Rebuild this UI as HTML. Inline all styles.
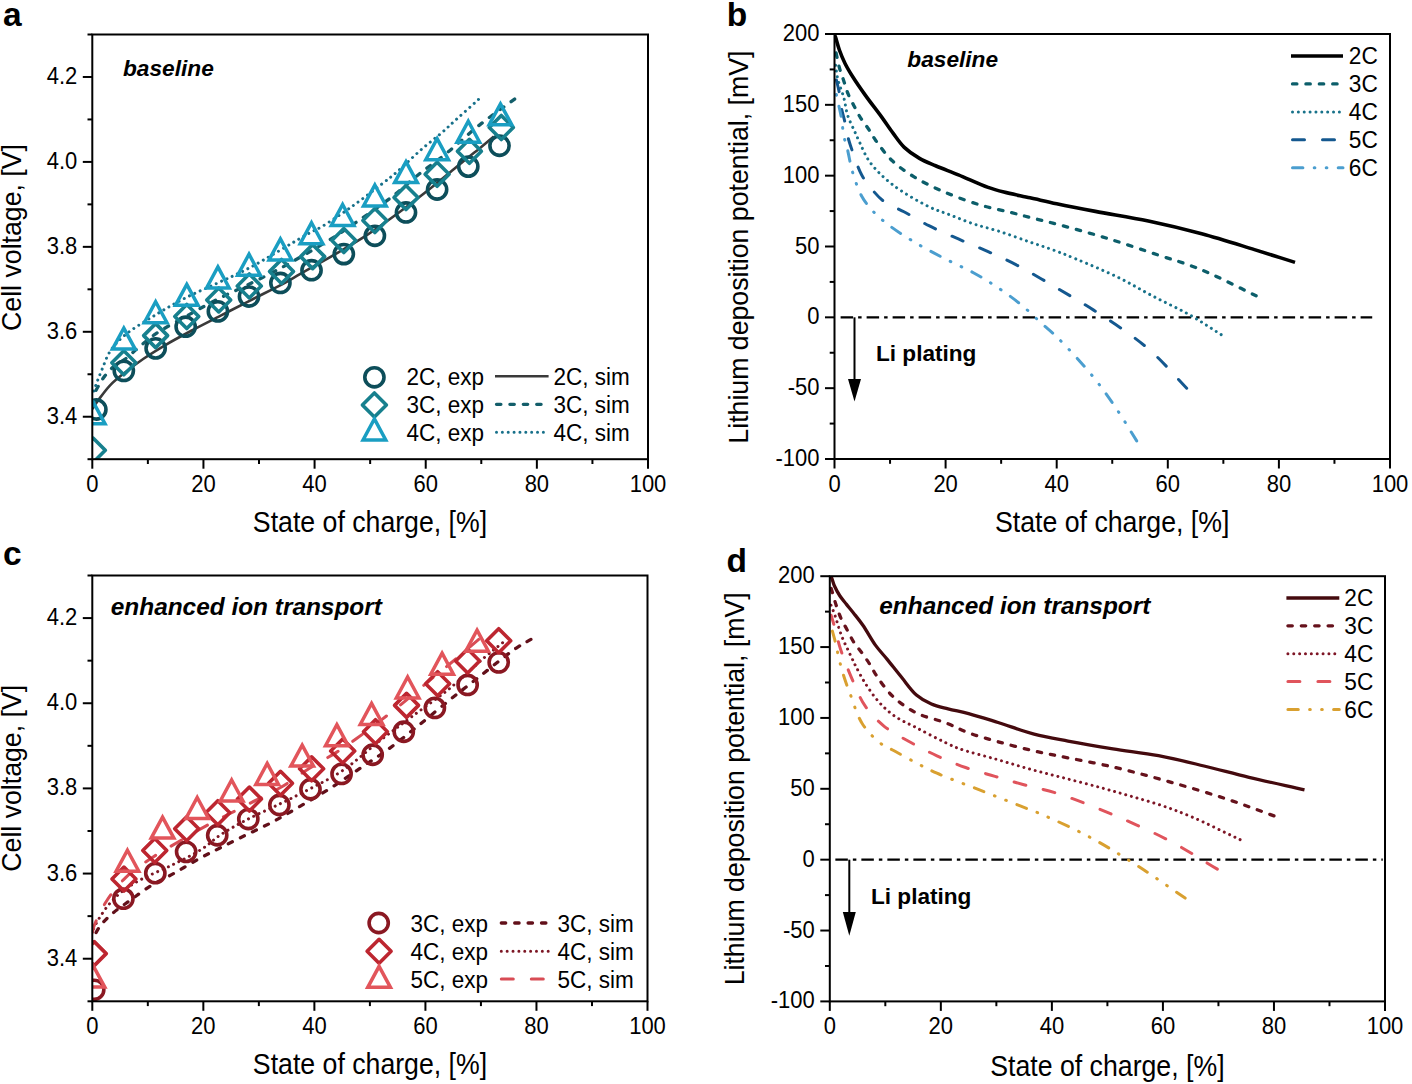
<!DOCTYPE html>
<html><head><meta charset="utf-8"><style>
html,body{margin:0;padding:0;background:#fff;}
svg{display:block;}
text{font-family:"Liberation Sans", sans-serif;fill:#000;}
</style></head><body>
<svg width="1412" height="1084" viewBox="0 0 1412 1084">
<rect width="1412" height="1084" fill="#fff"/>
<defs><clipPath id="ca"><rect x="92.3" y="34.5" width="555.7" height="424.7"/></clipPath><clipPath id="cc"><rect x="92.3" y="575.5" width="555.2" height="425.8"/></clipPath><clipPath id="cb"><rect x="834.5" y="34" width="555.5" height="425"/></clipPath><clipPath id="cd"><rect x="829.8" y="576.2" width="555.2" height="425.2"/></clipPath></defs>
<g clip-path="url(#ca)">
<path d="M92.30,409.09 C94.39,405.97 96.09,403.14 98.58,399.74 C101.77,395.39 105.86,389.71 110.08,385.30 C114.27,380.93 118.76,377.47 123.81,373.41 C129.63,368.73 136.32,363.65 143.15,358.97 C150.40,354.00 158.25,349.20 166.21,344.53 C174.44,339.70 182.96,335.20 191.77,330.52 C201.08,325.57 211.03,320.61 220.67,315.65 C230.30,310.70 239.35,306.01 249.56,300.79 C261.06,294.90 277.03,287.16 286.24,282.10 C291.96,278.96 294.33,277.24 299.91,274.03 C308.56,269.05 322.15,261.76 333.20,255.34 C344.33,248.88 355.48,242.51 366.43,235.38 C377.62,228.09 388.63,220.10 399.60,212.02 C410.75,203.83 423.30,194.09 432.78,186.54 C440.06,180.74 446.19,175.51 451.84,170.83 C456.37,167.07 459.65,164.22 464.06,160.64 C469.17,156.50 475.55,151.71 480.73,147.47 C485.39,143.67 489.44,140.11 493.79,136.43" fill="none" stroke="#3a3a3a" stroke-width="2.6" stroke-linecap="butt" stroke-linejoin="round"/>
<path d="M514.63,99.05 C502.59,107.97 489.95,116.68 478.51,125.81 C467.59,134.54 457.79,144.13 447.39,152.57 C437.41,160.66 426.99,167.82 417.38,175.50 C408.22,182.83 400.55,190.21 390.99,197.58 C380.35,205.78 367.59,214.49 356.26,222.22 C345.67,229.44 336.77,235.48 325.14,242.60 C310.91,251.32 290.40,262.90 276.79,270.21 C267.09,275.42 260.51,278.53 251.51,282.95 C241.31,287.96 229.27,293.30 218.72,298.66 C208.65,303.79 199.60,308.78 189.55,314.38 C178.63,320.46 164.70,327.78 155.65,333.91 C149.09,338.36 144.75,342.35 139.53,346.65 C134.44,350.85 129.30,356.01 124.70,359.40 C121.09,362.05 117.74,363.13 114.53,365.77 C110.98,368.68 107.37,372.70 104.53,376.38 C101.88,379.80 99.91,383.42 97.86,387.00 C95.85,390.50 94.15,394.08 92.30,397.62" fill="none" stroke="#135e6a" stroke-width="3.3" stroke-dasharray="4.4 9.0" stroke-linecap="round" stroke-linejoin="round"/>
<path d="M478.51,99.48 C470.81,106.42 462.13,114.19 455.39,120.29 C450.14,125.05 446.49,128.63 441.39,133.03 C435.56,138.07 429.01,142.86 422.22,148.74 C414.13,155.76 403.57,166.27 396.27,172.53 C391.19,176.87 388.37,178.96 382.99,183.14 C374.85,189.46 362.32,199.16 351.98,206.50 C342.02,213.57 330.12,221.71 322.08,226.46 C316.94,229.51 314.91,230.02 309.02,233.26 C296.24,240.29 265.78,259.24 249.01,268.08 C237.35,274.23 229.05,277.67 218.72,282.52 C207.96,287.58 196.30,292.35 185.66,297.81 C175.30,303.13 165.69,308.63 155.65,314.80 C145.07,321.31 131.90,329.03 123.81,336.04 C117.88,341.17 113.70,345.76 110.08,351.33 C106.60,356.69 104.63,363.23 102.30,368.74 C100.24,373.64 98.45,378.18 96.75,382.75 C95.13,387.08 93.78,391.25 92.30,395.49" fill="none" stroke="#17708a" stroke-width="3.0" stroke-dasharray="0.01 5.85" stroke-linecap="round" stroke-linejoin="round"/>
<circle cx="96.36" cy="409.51" r="9.6" fill="none" stroke="#0d4e5a" stroke-width="3.6"/>
<circle cx="123.81" cy="370.86" r="9.6" fill="none" stroke="#0d4e5a" stroke-width="3.6"/>
<circle cx="155.65" cy="348.35" r="9.6" fill="none" stroke="#0d4e5a" stroke-width="3.6"/>
<circle cx="185.66" cy="326.69" r="9.6" fill="none" stroke="#0d4e5a" stroke-width="3.6"/>
<circle cx="217.89" cy="311.40" r="9.6" fill="none" stroke="#0d4e5a" stroke-width="3.6"/>
<circle cx="249.01" cy="296.54" r="9.6" fill="none" stroke="#0d4e5a" stroke-width="3.6"/>
<circle cx="280.40" cy="282.95" r="9.6" fill="none" stroke="#0d4e5a" stroke-width="3.6"/>
<circle cx="311.52" cy="270.21" r="9.6" fill="none" stroke="#0d4e5a" stroke-width="3.6"/>
<circle cx="343.81" cy="254.07" r="9.6" fill="none" stroke="#0d4e5a" stroke-width="3.6"/>
<circle cx="374.87" cy="235.81" r="9.6" fill="none" stroke="#0d4e5a" stroke-width="3.6"/>
<circle cx="405.99" cy="212.45" r="9.6" fill="none" stroke="#0d4e5a" stroke-width="3.6"/>
<circle cx="437.11" cy="189.52" r="9.6" fill="none" stroke="#0d4e5a" stroke-width="3.6"/>
<circle cx="468.29" cy="166.58" r="9.6" fill="none" stroke="#0d4e5a" stroke-width="3.6"/>
<circle cx="499.52" cy="145.77" r="9.6" fill="none" stroke="#0d4e5a" stroke-width="3.6"/>
<path d="M93.30,438.28 L105.30,450.28 L93.30,462.28 L81.30,450.28 Z" fill="none" stroke="#17808e" stroke-width="3.6" stroke-linejoin="round"/>
<path d="M123.81,350.79 L135.81,362.79 L123.81,374.79 L111.81,362.79 Z" fill="none" stroke="#17808e" stroke-width="3.6" stroke-linejoin="round"/>
<path d="M155.65,323.61 L167.65,335.61 L155.65,347.61 L143.65,335.61 Z" fill="none" stroke="#17808e" stroke-width="3.6" stroke-linejoin="round"/>
<path d="M186.77,304.50 L198.77,316.50 L186.77,328.50 L174.77,316.50 Z" fill="none" stroke="#17808e" stroke-width="3.6" stroke-linejoin="round"/>
<path d="M218.72,287.94 L230.72,299.94 L218.72,311.94 L206.72,299.94 Z" fill="none" stroke="#17808e" stroke-width="3.6" stroke-linejoin="round"/>
<path d="M249.29,273.92 L261.29,285.92 L249.29,297.92 L237.29,285.92 Z" fill="none" stroke="#17808e" stroke-width="3.6" stroke-linejoin="round"/>
<path d="M281.52,259.48 L293.52,271.48 L281.52,283.48 L269.52,271.48 Z" fill="none" stroke="#17808e" stroke-width="3.6" stroke-linejoin="round"/>
<path d="M312.64,244.62 L324.64,256.62 L312.64,268.62 L300.64,256.62 Z" fill="none" stroke="#17808e" stroke-width="3.6" stroke-linejoin="round"/>
<path d="M343.81,228.48 L355.81,240.48 L343.81,252.48 L331.81,240.48 Z" fill="none" stroke="#17808e" stroke-width="3.6" stroke-linejoin="round"/>
<path d="M374.87,208.52 L386.87,220.52 L374.87,232.52 L362.87,220.52 Z" fill="none" stroke="#17808e" stroke-width="3.6" stroke-linejoin="round"/>
<path d="M405.99,185.58 L417.99,197.58 L405.99,209.58 L393.99,197.58 Z" fill="none" stroke="#17808e" stroke-width="3.6" stroke-linejoin="round"/>
<path d="M437.11,162.23 L449.11,174.23 L437.11,186.23 L425.11,174.23 Z" fill="none" stroke="#17808e" stroke-width="3.6" stroke-linejoin="round"/>
<path d="M469.40,139.29 L481.40,151.29 L469.40,163.29 L457.40,151.29 Z" fill="none" stroke="#17808e" stroke-width="3.6" stroke-linejoin="round"/>
<path d="M501.30,115.51 L513.30,127.51 L501.30,139.51 L489.30,127.51 Z" fill="none" stroke="#17808e" stroke-width="3.6" stroke-linejoin="round"/>
<path d="M93.69,402.83 L105.03,423.83 L82.35,423.83 Z" fill="none" stroke="#1a9ec2" stroke-width="3.5" stroke-linejoin="miter" stroke-miterlimit="10"/>
<path d="M123.81,328.09 L135.15,349.09 L112.47,349.09 Z" fill="none" stroke="#1a9ec2" stroke-width="3.5" stroke-linejoin="miter" stroke-miterlimit="10"/>
<path d="M155.65,301.75 L166.99,322.75 L144.31,322.75 Z" fill="none" stroke="#1a9ec2" stroke-width="3.5" stroke-linejoin="miter" stroke-miterlimit="10"/>
<path d="M186.77,284.34 L198.11,305.34 L175.43,305.34 Z" fill="none" stroke="#1a9ec2" stroke-width="3.5" stroke-linejoin="miter" stroke-miterlimit="10"/>
<path d="M217.89,266.93 L229.23,287.93 L206.55,287.93 Z" fill="none" stroke="#1a9ec2" stroke-width="3.5" stroke-linejoin="miter" stroke-miterlimit="10"/>
<path d="M249.01,254.19 L260.35,275.19 L237.67,275.19 Z" fill="none" stroke="#1a9ec2" stroke-width="3.5" stroke-linejoin="miter" stroke-miterlimit="10"/>
<path d="M280.40,238.90 L291.74,259.90 L269.06,259.90 Z" fill="none" stroke="#1a9ec2" stroke-width="3.5" stroke-linejoin="miter" stroke-miterlimit="10"/>
<path d="M311.52,222.76 L322.86,243.76 L300.18,243.76 Z" fill="none" stroke="#1a9ec2" stroke-width="3.5" stroke-linejoin="miter" stroke-miterlimit="10"/>
<path d="M342.64,204.50 L353.98,225.50 L331.30,225.50 Z" fill="none" stroke="#1a9ec2" stroke-width="3.5" stroke-linejoin="miter" stroke-miterlimit="10"/>
<path d="M374.87,184.96 L386.21,205.96 L363.53,205.96 Z" fill="none" stroke="#1a9ec2" stroke-width="3.5" stroke-linejoin="miter" stroke-miterlimit="10"/>
<path d="M405.99,161.60 L417.33,182.60 L394.65,182.60 Z" fill="none" stroke="#1a9ec2" stroke-width="3.5" stroke-linejoin="miter" stroke-miterlimit="10"/>
<path d="M437.11,138.67 L448.45,159.67 L425.77,159.67 Z" fill="none" stroke="#1a9ec2" stroke-width="3.5" stroke-linejoin="miter" stroke-miterlimit="10"/>
<path d="M468.29,121.26 L479.63,142.26 L456.95,142.26 Z" fill="none" stroke="#1a9ec2" stroke-width="3.5" stroke-linejoin="miter" stroke-miterlimit="10"/>
<path d="M500.46,103.84 L511.80,124.84 L489.12,124.84 Z" fill="none" stroke="#1a9ec2" stroke-width="3.5" stroke-linejoin="miter" stroke-miterlimit="10"/>
</g>
<rect x="92.3" y="34.5" width="555.7" height="424.7" fill="none" stroke="#000" stroke-width="2"/>
<line x1="92.30" y1="459.2" x2="92.30" y2="468.7" stroke="#000" stroke-width="2"/>
<text transform="translate(92.30,492.20) scale(1,1.08)" text-anchor="middle" font-size="22">0</text>
<line x1="147.87" y1="459.2" x2="147.87" y2="464.0" stroke="#000" stroke-width="2"/>
<line x1="203.44" y1="459.2" x2="203.44" y2="468.7" stroke="#000" stroke-width="2"/>
<text transform="translate(203.44,492.20) scale(1,1.08)" text-anchor="middle" font-size="22">20</text>
<line x1="259.01" y1="459.2" x2="259.01" y2="464.0" stroke="#000" stroke-width="2"/>
<line x1="314.58" y1="459.2" x2="314.58" y2="468.7" stroke="#000" stroke-width="2"/>
<text transform="translate(314.58,492.20) scale(1,1.08)" text-anchor="middle" font-size="22">40</text>
<line x1="370.15" y1="459.2" x2="370.15" y2="464.0" stroke="#000" stroke-width="2"/>
<line x1="425.72" y1="459.2" x2="425.72" y2="468.7" stroke="#000" stroke-width="2"/>
<text transform="translate(425.72,492.20) scale(1,1.08)" text-anchor="middle" font-size="22">60</text>
<line x1="481.29" y1="459.2" x2="481.29" y2="464.0" stroke="#000" stroke-width="2"/>
<line x1="536.86" y1="459.2" x2="536.86" y2="468.7" stroke="#000" stroke-width="2"/>
<text transform="translate(536.86,492.20) scale(1,1.08)" text-anchor="middle" font-size="22">80</text>
<line x1="592.43" y1="459.2" x2="592.43" y2="464.0" stroke="#000" stroke-width="2"/>
<line x1="648.00" y1="459.2" x2="648.00" y2="468.7" stroke="#000" stroke-width="2"/>
<text transform="translate(648.00,492.20) scale(1,1.08)" text-anchor="middle" font-size="22">100</text>
<line x1="82.8" y1="416.73" x2="92.3" y2="416.73" stroke="#000" stroke-width="2"/>
<line x1="82.8" y1="331.79" x2="92.3" y2="331.79" stroke="#000" stroke-width="2"/>
<line x1="82.8" y1="246.85" x2="92.3" y2="246.85" stroke="#000" stroke-width="2"/>
<line x1="82.8" y1="161.91" x2="92.3" y2="161.91" stroke="#000" stroke-width="2"/>
<line x1="82.8" y1="76.97" x2="92.3" y2="76.97" stroke="#000" stroke-width="2"/>
<line x1="87.5" y1="459.20" x2="92.3" y2="459.20" stroke="#000" stroke-width="2"/>
<line x1="87.5" y1="374.26" x2="92.3" y2="374.26" stroke="#000" stroke-width="2"/>
<line x1="87.5" y1="289.32" x2="92.3" y2="289.32" stroke="#000" stroke-width="2"/>
<line x1="87.5" y1="204.38" x2="92.3" y2="204.38" stroke="#000" stroke-width="2"/>
<line x1="87.5" y1="119.44" x2="92.3" y2="119.44" stroke="#000" stroke-width="2"/>
<line x1="87.5" y1="34.50" x2="92.3" y2="34.50" stroke="#000" stroke-width="2"/>
<text transform="translate(77.30,423.73) scale(1,1.08)" text-anchor="end" font-size="22">3.4</text>
<text transform="translate(77.30,338.79) scale(1,1.08)" text-anchor="end" font-size="22">3.6</text>
<text transform="translate(77.30,253.85) scale(1,1.08)" text-anchor="end" font-size="22">3.8</text>
<text transform="translate(77.30,168.91) scale(1,1.08)" text-anchor="end" font-size="22">4.0</text>
<text transform="translate(77.30,83.97) scale(1,1.08)" text-anchor="end" font-size="22">4.2</text>
<circle cx="374.40" cy="377.30" r="9.6" fill="none" stroke="#0d4e5a" stroke-width="3.6"/>
<path d="M374.40,392.90 L386.40,404.90 L374.40,416.90 L362.40,404.90 Z" fill="none" stroke="#17808e" stroke-width="3.6" stroke-linejoin="round"/>
<path d="M374.40,418.90 L385.74,439.90 L363.06,439.90 Z" fill="none" stroke="#1a9ec2" stroke-width="3.5" stroke-linejoin="miter" stroke-miterlimit="10"/>
<text transform="translate(406.5,385.00) scale(1,1.03)" font-size="22.5">2C, exp</text>
<text transform="translate(553.5,385.00) scale(1,1.03)" font-size="22.5">2C, sim</text>
<text transform="translate(406.5,413.00) scale(1,1.03)" font-size="22.5">3C, exp</text>
<text transform="translate(553.5,413.00) scale(1,1.03)" font-size="22.5">3C, sim</text>
<text transform="translate(406.5,441.00) scale(1,1.03)" font-size="22.5">4C, exp</text>
<text transform="translate(553.5,441.00) scale(1,1.03)" font-size="22.5">4C, sim</text>
<line x1="495" y1="376.30" x2="548.6" y2="376.30" stroke="#3a3a3a" stroke-width="2.6" stroke-linecap="butt"/>
<line x1="496.5" y1="404.30" x2="548.6" y2="404.30" stroke="#135e6a" stroke-width="3.3" stroke-dasharray="4.4 9.0" stroke-linecap="round"/>
<line x1="496.5" y1="432.30" x2="548.6" y2="432.30" stroke="#17708a" stroke-width="3.0" stroke-dasharray="0.01 5.85" stroke-linecap="round"/>
<text x="123" y="75.6" font-size="22.7" font-weight="bold" font-style="italic">baseline</text>
<text x="3.0" y="26.2" font-size="33.5" font-weight="bold">a</text>
<text transform="translate(21,237.5) rotate(-90) scale(1,1.05)" text-anchor="middle" font-size="26.7">Cell voltage, [V]</text>
<text transform="translate(370,531.70) scale(1,1.08)" text-anchor="middle" font-size="26.7">State of charge, [%]</text>
<g clip-path="url(#cb)">
<line x1="840.61" y1="317.33" x2="1372.22" y2="317.33" stroke="#000" stroke-width="2.2" stroke-dasharray="12.5 5 3.5 5"/>
<path d="M834.50,34.71 C834.83,35.51 835.09,35.98 835.50,37.12 C836.42,39.70 837.84,45.71 839.39,50.01 C841.00,54.49 842.87,59.06 845.05,63.47 C847.30,67.99 849.73,72.02 852.72,76.78 C856.37,82.59 861.00,89.18 865.61,95.62 C870.61,102.61 876.84,110.45 881.72,117.16 C885.92,122.94 889.35,128.29 893.22,133.45 C896.87,138.32 899.97,143.22 904.27,147.33 C908.70,151.56 914.18,155.29 919.49,158.38 C924.64,161.39 929.73,163.24 935.60,165.75 C942.50,168.70 950.30,171.50 958.38,174.82 C967.64,178.63 979.66,184.40 988.10,187.43 C994.13,189.59 997.96,190.57 1003.93,192.10 C1011.52,194.04 1021.29,195.84 1030.04,197.77 C1038.88,199.71 1046.98,201.67 1056.70,203.72 C1068.38,206.18 1081.45,208.73 1095.36,211.37 C1111.63,214.45 1130.72,217.29 1148.36,221.00 C1166.16,224.74 1184.02,228.99 1201.69,233.75 C1219.39,238.52 1238.04,244.57 1254.46,249.62 C1268.88,254.05 1281.49,258.12 1295.01,262.37" fill="none" stroke="#000000" stroke-width="3.6" stroke-linecap="butt" stroke-linejoin="round"/>
<path d="M1256.12,295.80 C1241.50,288.72 1224.56,280.06 1212.24,274.55 C1203.48,270.64 1197.67,268.21 1189.46,265.20 C1180.09,261.76 1170.48,259.05 1158.91,255.28 C1143.71,250.33 1123.84,243.36 1106.14,238.00 C1088.47,232.64 1066.88,226.84 1052.81,223.12 C1043.65,220.71 1037.43,219.35 1030.04,217.46 C1023.00,215.66 1016.93,213.94 1009.48,212.07 C1000.68,209.87 990.71,208.17 980.60,205.13 C969.01,201.65 955.35,196.73 943.93,191.82 C933.44,187.30 923.41,182.53 914.49,177.08 C906.33,172.10 898.78,166.97 892.27,160.79 C885.96,154.79 880.20,146.66 875.88,140.68 C872.67,136.21 870.80,132.41 868.16,128.49 C865.63,124.72 862.77,121.40 860.39,117.58 C857.96,113.71 855.85,109.39 853.78,105.40 C851.81,101.61 849.85,98.16 848.22,94.21 C846.49,90.02 845.25,85.32 843.78,80.89 C842.31,76.49 840.70,72.47 839.39,67.72 C837.89,62.29 836.80,55.91 835.50,50.01" fill="none" stroke="#0c5e6a" stroke-width="3.3" stroke-dasharray="4.4 9.0" stroke-linecap="round" stroke-linejoin="round"/>
<path d="M1221.13,334.62 C1210.57,328.01 1200.51,321.04 1189.46,314.78 C1177.96,308.26 1165.31,302.63 1153.36,296.37 C1141.43,290.12 1130.33,283.34 1117.81,277.24 C1104.33,270.69 1086.99,263.50 1075.03,258.54 C1066.51,255.01 1060.43,252.63 1052.98,249.90 C1045.44,247.14 1038.19,244.92 1030.04,242.11 C1020.70,238.89 1009.78,234.75 1000.04,231.62 C990.93,228.70 981.91,226.71 973.38,223.83 C965.28,221.11 957.62,217.83 950.04,214.91 C942.83,212.12 936.75,210.55 928.93,206.69 C918.18,201.39 902.58,192.51 892.27,184.45 C883.46,177.56 875.63,169.92 870.05,162.35 C865.39,156.02 862.62,148.54 859.89,142.94 C857.86,138.78 856.69,135.95 854.89,131.89 C852.68,126.93 849.52,121.03 847.67,115.32 C845.81,109.60 845.38,103.52 843.78,97.61 C842.12,91.52 839.23,85.09 837.83,79.33 C836.62,74.36 836.28,69.89 835.50,65.17" fill="none" stroke="#18728a" stroke-width="3.0" stroke-dasharray="0.01 5.85" stroke-linecap="round" stroke-linejoin="round"/>
<path d="M1186.69,388.17 C1175.58,376.55 1163.85,362.92 1153.36,353.32 C1145.00,345.67 1138.39,340.74 1129.47,334.19 C1118.88,326.41 1105.68,317.77 1093.64,310.11 C1081.79,302.57 1070.12,295.80 1057.81,288.57 C1044.88,280.98 1030.28,272.13 1017.82,265.62 C1007.29,260.13 998.05,256.06 988.10,251.60 C978.23,247.18 968.23,243.31 958.38,238.99 C948.51,234.67 938.26,230.36 928.93,225.68 C920.17,221.27 911.78,215.97 903.94,211.79 C897.08,208.14 889.91,205.78 884.50,201.88 C879.81,198.50 876.50,194.68 872.83,190.40 C868.87,185.78 865.07,181.17 861.72,174.96 C857.44,167.02 853.04,153.09 850.61,145.92 C849.21,141.78 848.56,139.61 847.67,136.00 C846.62,131.75 845.91,126.58 844.89,121.98 C843.89,117.47 842.51,113.29 841.61,108.66 C840.65,103.69 840.38,98.33 839.39,93.07 C838.36,87.61 836.80,82.03 835.50,76.50" fill="none" stroke="#14588f" stroke-width="3.0" stroke-dasharray="12 18" stroke-linecap="round" stroke-linejoin="round"/>
<path d="M1136.69,440.87 C1130.40,430.86 1124.67,421.00 1117.81,410.83 C1110.41,399.87 1102.84,388.75 1093.64,377.40 C1083.18,364.49 1067.51,347.50 1057.81,337.88 C1051.75,331.86 1047.81,329.00 1042.26,323.99 C1035.81,318.17 1028.84,311.08 1021.43,305.01 C1013.70,298.68 1004.95,292.38 996.71,286.88 C988.93,281.68 981.71,277.27 973.38,272.71 C964.24,267.70 953.69,263.33 943.93,258.26 C934.06,253.13 923.95,247.83 914.49,242.11 C905.26,236.53 895.28,230.14 887.83,224.40 C881.93,219.86 877.23,215.86 872.83,211.08 C868.64,206.53 865.05,202.22 861.89,196.49 C858.13,189.68 855.14,180.56 852.66,172.41 C850.23,164.36 848.80,154.59 847.11,147.90 C845.92,143.21 844.66,140.35 843.78,136.00 C842.74,130.87 842.50,124.33 841.61,119.00 C840.81,114.20 839.77,110.02 838.78,105.40 C837.74,100.58 836.59,95.58 835.50,90.67" fill="none" stroke="#4b9ecf" stroke-width="3.0" stroke-dasharray="10.4 11.3 0.7 11.3 0.7 11.3" stroke-linecap="round" stroke-linejoin="round"/>
</g>
<line x1="854.5" y1="317.33" x2="854.5" y2="382" stroke="#000" stroke-width="2"/>
<path d="M848,379 L861,379 L854.5,401.5 Z" fill="#000"/>
<text x="876" y="361.4" font-size="22.6" font-weight="bold">Li plating</text>
<rect x="834.5" y="34" width="555.5" height="425" fill="none" stroke="#000" stroke-width="2"/>
<line x1="834.50" y1="459" x2="834.50" y2="468.5" stroke="#000" stroke-width="2"/>
<text transform="translate(834.50,492.00) scale(1,1.08)" text-anchor="middle" font-size="22">0</text>
<line x1="890.05" y1="459" x2="890.05" y2="463.8" stroke="#000" stroke-width="2"/>
<line x1="945.60" y1="459" x2="945.60" y2="468.5" stroke="#000" stroke-width="2"/>
<text transform="translate(945.60,492.00) scale(1,1.08)" text-anchor="middle" font-size="22">20</text>
<line x1="1001.15" y1="459" x2="1001.15" y2="463.8" stroke="#000" stroke-width="2"/>
<line x1="1056.70" y1="459" x2="1056.70" y2="468.5" stroke="#000" stroke-width="2"/>
<text transform="translate(1056.70,492.00) scale(1,1.08)" text-anchor="middle" font-size="22">40</text>
<line x1="1112.25" y1="459" x2="1112.25" y2="463.8" stroke="#000" stroke-width="2"/>
<line x1="1167.80" y1="459" x2="1167.80" y2="468.5" stroke="#000" stroke-width="2"/>
<text transform="translate(1167.80,492.00) scale(1,1.08)" text-anchor="middle" font-size="22">60</text>
<line x1="1223.35" y1="459" x2="1223.35" y2="463.8" stroke="#000" stroke-width="2"/>
<line x1="1278.90" y1="459" x2="1278.90" y2="468.5" stroke="#000" stroke-width="2"/>
<text transform="translate(1278.90,492.00) scale(1,1.08)" text-anchor="middle" font-size="22">80</text>
<line x1="1334.45" y1="459" x2="1334.45" y2="463.8" stroke="#000" stroke-width="2"/>
<line x1="1390.00" y1="459" x2="1390.00" y2="468.5" stroke="#000" stroke-width="2"/>
<text transform="translate(1390.00,492.00) scale(1,1.08)" text-anchor="middle" font-size="22">100</text>
<line x1="825.0" y1="459.00" x2="834.5" y2="459.00" stroke="#000" stroke-width="2"/>
<line x1="825.0" y1="388.17" x2="834.5" y2="388.17" stroke="#000" stroke-width="2"/>
<line x1="825.0" y1="317.33" x2="834.5" y2="317.33" stroke="#000" stroke-width="2"/>
<line x1="825.0" y1="246.50" x2="834.5" y2="246.50" stroke="#000" stroke-width="2"/>
<line x1="825.0" y1="175.67" x2="834.5" y2="175.67" stroke="#000" stroke-width="2"/>
<line x1="825.0" y1="104.83" x2="834.5" y2="104.83" stroke="#000" stroke-width="2"/>
<line x1="825.0" y1="34.00" x2="834.5" y2="34.00" stroke="#000" stroke-width="2"/>
<line x1="829.7" y1="423.58" x2="834.5" y2="423.58" stroke="#000" stroke-width="2"/>
<line x1="829.7" y1="352.75" x2="834.5" y2="352.75" stroke="#000" stroke-width="2"/>
<line x1="829.7" y1="281.92" x2="834.5" y2="281.92" stroke="#000" stroke-width="2"/>
<line x1="829.7" y1="211.08" x2="834.5" y2="211.08" stroke="#000" stroke-width="2"/>
<line x1="829.7" y1="140.25" x2="834.5" y2="140.25" stroke="#000" stroke-width="2"/>
<line x1="829.7" y1="69.42" x2="834.5" y2="69.42" stroke="#000" stroke-width="2"/>
<text transform="translate(819.50,466.00) scale(1,1.08)" text-anchor="end" font-size="22">-100</text>
<text transform="translate(819.50,395.17) scale(1,1.08)" text-anchor="end" font-size="22">-50</text>
<text transform="translate(819.50,324.33) scale(1,1.08)" text-anchor="end" font-size="22">0</text>
<text transform="translate(819.50,253.50) scale(1,1.08)" text-anchor="end" font-size="22">50</text>
<text transform="translate(819.50,182.67) scale(1,1.08)" text-anchor="end" font-size="22">100</text>
<text transform="translate(819.50,111.83) scale(1,1.08)" text-anchor="end" font-size="22">150</text>
<text transform="translate(819.50,41.00) scale(1,1.08)" text-anchor="end" font-size="22">200</text>
<text x="907.3" y="67.3" font-size="22.7" font-weight="bold" font-style="italic">baseline</text>
<text x="726.8" y="25.5" font-size="33.5" font-weight="bold">b</text>
<text transform="translate(748,247.1) rotate(-90) scale(1,1.05)" text-anchor="middle" font-size="26.7">Lithium deposition potential, [mV]</text>
<text transform="translate(1112.2,531.70) scale(1,1.08)" text-anchor="middle" font-size="26.7">State of charge, [%]</text>
<line x1="1291" y1="56.00" x2="1343" y2="56.00" stroke="#000000" stroke-width="3.3" stroke-linecap="butt"/>
<text transform="translate(1348.8,64.10) scale(1,1.08)" font-size="22.7">2C</text>
<line x1="1292.5" y1="83.95" x2="1343" y2="83.95" stroke="#0c5e6a" stroke-width="3.3" stroke-dasharray="4.4 9.0" stroke-linecap="round"/>
<text transform="translate(1348.8,92.05) scale(1,1.08)" font-size="22.7">3C</text>
<line x1="1292.5" y1="111.90" x2="1343" y2="111.90" stroke="#18728a" stroke-width="3.0" stroke-dasharray="0.01 5.85" stroke-linecap="round"/>
<text transform="translate(1348.8,120.00) scale(1,1.08)" font-size="22.7">4C</text>
<line x1="1292.5" y1="139.85" x2="1343" y2="139.85" stroke="#14588f" stroke-width="3.0" stroke-dasharray="12 18" stroke-linecap="round"/>
<text transform="translate(1348.8,147.95) scale(1,1.08)" font-size="22.7">5C</text>
<line x1="1292.5" y1="167.80" x2="1343" y2="167.80" stroke="#4b9ecf" stroke-width="3.0" stroke-dasharray="10.4 11.3 0.7 11.3 0.7 11.3" stroke-linecap="round"/>
<text transform="translate(1348.8,175.90) scale(1,1.08)" font-size="22.7">6C</text>
<g clip-path="url(#cc)">
<path d="M530.91,639.37 C525.91,642.35 521.96,644.18 515.92,648.31 C505.63,655.34 487.85,670.11 475.94,679.40 C466.31,686.91 459.04,692.48 449.85,699.83 C439.38,708.21 427.40,718.40 416.54,727.08 C406.33,735.25 396.38,743.38 386.56,750.50 C377.53,757.04 369.09,762.23 359.91,768.39 C350.08,774.98 339.77,782.26 329.37,788.83 C318.87,795.46 307.31,802.10 297.17,807.99 C288.19,813.20 280.26,817.91 271.63,822.46 C263.05,826.99 254.18,830.96 245.54,835.24 C236.97,839.48 227.98,843.97 220.00,848.01 C212.92,851.59 206.99,854.43 200.01,858.23 C192.09,862.55 183.38,868.01 175.02,872.71 C166.73,877.37 157.83,881.49 150.04,886.33 C142.72,890.89 135.96,896.14 129.50,900.81 C123.63,905.05 117.83,908.85 112.84,913.16 C108.26,917.11 103.98,921.02 100.52,925.51 C97.17,929.84 95.04,934.88 92.30,939.56" fill="none" stroke="#62101a" stroke-width="3.3" stroke-dasharray="4.4 9.0" stroke-linecap="round" stroke-linejoin="round"/>
<path d="M502.59,642.78 C496.30,647.89 490.84,652.04 483.72,658.11 C473.98,666.39 461.71,678.66 449.85,688.34 C437.68,698.27 423.63,707.81 411.54,716.87 C400.62,725.04 391.25,731.89 380.45,740.28 C368.41,749.64 355.18,762.11 342.70,770.52 C331.70,777.92 320.73,783.11 309.94,788.83 C299.64,794.28 289.87,799.03 279.40,804.15 C268.43,809.53 255.92,814.83 245.54,820.33 C236.31,825.22 227.60,830.14 220.00,835.24 C213.38,839.68 209.19,844.38 202.23,848.86 C193.50,854.49 181.57,860.26 171.14,865.47 C160.84,870.61 148.97,874.98 140.05,879.95 C132.81,883.97 126.61,887.88 121.17,892.30 C116.38,896.18 112.55,900.15 108.79,904.64 C104.95,909.22 101.30,914.82 98.41,919.55 C95.96,923.55 94.34,927.21 92.30,931.04" fill="none" stroke="#7c1624" stroke-width="3.0" stroke-dasharray="0.01 5.85" stroke-linecap="round" stroke-linejoin="round"/>
<path d="M478.72,639.37 C468.36,648.17 456.66,658.26 447.63,665.77 C440.75,671.48 436.11,675.05 429.31,680.67 C420.63,687.84 410.74,696.66 399.88,705.37 C386.94,715.76 368.45,729.98 356.58,738.58 C348.56,744.39 343.38,747.97 336.03,752.63 C327.94,757.77 318.82,762.40 309.94,767.96 C300.34,773.97 290.50,781.66 280.51,787.55 C270.80,793.27 261.77,797.26 250.87,802.88 C237.48,809.77 219.33,818.68 206.12,825.87 C195.37,831.72 186.69,836.88 177.25,842.48 C168.01,847.95 158.74,853.14 150.04,859.08 C141.47,864.94 132.67,870.77 125.39,877.82 C118.27,884.71 111.98,892.71 106.74,900.81 C101.66,908.64 96.48,919.53 94.24,925.51 C93.05,928.71 92.95,930.62 92.30,933.17" fill="none" stroke="#d84c55" stroke-width="3.0" stroke-dasharray="12 18" stroke-linecap="round" stroke-linejoin="round"/>
<circle cx="94.24" cy="989.80" r="9.6" fill="none" stroke="#8a1822" stroke-width="3.6"/>
<circle cx="123.39" cy="898.68" r="9.6" fill="none" stroke="#8a1822" stroke-width="3.6"/>
<circle cx="155.32" cy="873.13" r="9.6" fill="none" stroke="#8a1822" stroke-width="3.6"/>
<circle cx="186.13" cy="851.84" r="9.6" fill="none" stroke="#8a1822" stroke-width="3.6"/>
<circle cx="217.22" cy="835.24" r="9.6" fill="none" stroke="#8a1822" stroke-width="3.6"/>
<circle cx="248.31" cy="819.06" r="9.6" fill="none" stroke="#8a1822" stroke-width="3.6"/>
<circle cx="279.40" cy="805.01" r="9.6" fill="none" stroke="#8a1822" stroke-width="3.6"/>
<circle cx="310.49" cy="789.25" r="9.6" fill="none" stroke="#8a1822" stroke-width="3.6"/>
<circle cx="341.58" cy="773.92" r="9.6" fill="none" stroke="#8a1822" stroke-width="3.6"/>
<circle cx="372.68" cy="754.76" r="9.6" fill="none" stroke="#8a1822" stroke-width="3.6"/>
<circle cx="403.77" cy="731.77" r="9.6" fill="none" stroke="#8a1822" stroke-width="3.6"/>
<circle cx="434.86" cy="707.92" r="9.6" fill="none" stroke="#8a1822" stroke-width="3.6"/>
<circle cx="467.62" cy="684.93" r="9.6" fill="none" stroke="#8a1822" stroke-width="3.6"/>
<circle cx="498.71" cy="662.36" r="9.6" fill="none" stroke="#8a1822" stroke-width="3.6"/>
<path d="M94.24,941.61 L106.24,953.61 L94.24,965.61 L82.24,953.61 Z" fill="none" stroke="#bd2630" stroke-width="3.6" stroke-linejoin="round"/>
<path d="M123.95,867.10 L135.95,879.10 L123.95,891.10 L111.95,879.10 Z" fill="none" stroke="#bd2630" stroke-width="3.6" stroke-linejoin="round"/>
<path d="M154.76,838.57 L166.76,850.57 L154.76,862.57 L142.76,850.57 Z" fill="none" stroke="#bd2630" stroke-width="3.6" stroke-linejoin="round"/>
<path d="M186.68,816.85 L198.68,828.85 L186.68,840.85 L174.68,828.85 Z" fill="none" stroke="#bd2630" stroke-width="3.6" stroke-linejoin="round"/>
<path d="M217.78,800.67 L229.78,812.67 L217.78,824.67 L205.78,812.67 Z" fill="none" stroke="#bd2630" stroke-width="3.6" stroke-linejoin="round"/>
<path d="M249.42,787.04 L261.42,799.04 L249.42,811.04 L237.42,799.04 Z" fill="none" stroke="#bd2630" stroke-width="3.6" stroke-linejoin="round"/>
<path d="M280.51,771.29 L292.51,783.29 L280.51,795.29 L268.51,783.29 Z" fill="none" stroke="#bd2630" stroke-width="3.6" stroke-linejoin="round"/>
<path d="M311.60,756.81 L323.60,768.81 L311.60,780.81 L299.60,768.81 Z" fill="none" stroke="#bd2630" stroke-width="3.6" stroke-linejoin="round"/>
<path d="M342.70,738.93 L354.70,750.93 L342.70,762.93 L330.70,750.93 Z" fill="none" stroke="#bd2630" stroke-width="3.6" stroke-linejoin="round"/>
<path d="M375.45,719.77 L387.45,731.77 L375.45,743.77 L363.45,731.77 Z" fill="none" stroke="#bd2630" stroke-width="3.6" stroke-linejoin="round"/>
<path d="M406.54,693.37 L418.54,705.37 L406.54,717.37 L394.54,705.37 Z" fill="none" stroke="#bd2630" stroke-width="3.6" stroke-linejoin="round"/>
<path d="M437.63,671.65 L449.63,683.65 L437.63,695.65 L425.63,683.65 Z" fill="none" stroke="#bd2630" stroke-width="3.6" stroke-linejoin="round"/>
<path d="M467.62,649.09 L479.62,661.09 L467.62,673.09 L455.62,661.09 Z" fill="none" stroke="#bd2630" stroke-width="3.6" stroke-linejoin="round"/>
<path d="M498.71,628.65 L510.71,640.65 L498.71,652.65 L486.71,640.65 Z" fill="none" stroke="#bd2630" stroke-width="3.6" stroke-linejoin="round"/>
<path d="M93.41,966.10 L104.75,987.10 L82.07,987.10 Z" fill="none" stroke="#e2555b" stroke-width="3.5" stroke-linejoin="miter" stroke-miterlimit="10"/>
<path d="M127.44,850.29 L138.78,871.29 L116.10,871.29 Z" fill="none" stroke="#e2555b" stroke-width="3.5" stroke-linejoin="miter" stroke-miterlimit="10"/>
<path d="M162.53,817.07 L173.87,838.07 L151.19,838.07 Z" fill="none" stroke="#e2555b" stroke-width="3.5" stroke-linejoin="miter" stroke-miterlimit="10"/>
<path d="M197.23,797.49 L208.57,818.49 L185.89,818.49 Z" fill="none" stroke="#e2555b" stroke-width="3.5" stroke-linejoin="miter" stroke-miterlimit="10"/>
<path d="M231.66,780.03 L243.00,801.03 L220.32,801.03 Z" fill="none" stroke="#e2555b" stroke-width="3.5" stroke-linejoin="miter" stroke-miterlimit="10"/>
<path d="M267.19,763.42 L278.53,784.42 L255.85,784.42 Z" fill="none" stroke="#e2555b" stroke-width="3.5" stroke-linejoin="miter" stroke-miterlimit="10"/>
<path d="M302.17,745.11 L313.51,766.11 L290.83,766.11 Z" fill="none" stroke="#e2555b" stroke-width="3.5" stroke-linejoin="miter" stroke-miterlimit="10"/>
<path d="M336.87,724.67 L348.21,745.67 L325.53,745.67 Z" fill="none" stroke="#e2555b" stroke-width="3.5" stroke-linejoin="miter" stroke-miterlimit="10"/>
<path d="M371.57,703.38 L382.91,724.38 L360.23,724.38 Z" fill="none" stroke="#e2555b" stroke-width="3.5" stroke-linejoin="miter" stroke-miterlimit="10"/>
<path d="M407.65,676.99 L418.99,697.99 L396.31,697.99 Z" fill="none" stroke="#e2555b" stroke-width="3.5" stroke-linejoin="miter" stroke-miterlimit="10"/>
<path d="M442.08,653.14 L453.42,674.14 L430.74,674.14 Z" fill="none" stroke="#e2555b" stroke-width="3.5" stroke-linejoin="miter" stroke-miterlimit="10"/>
<path d="M477.05,630.15 L488.39,651.15 L465.71,651.15 Z" fill="none" stroke="#e2555b" stroke-width="3.5" stroke-linejoin="miter" stroke-miterlimit="10"/>
</g>
<rect x="92.3" y="575.5" width="555.2" height="425.79999999999995" fill="none" stroke="#000" stroke-width="2"/>
<line x1="92.30" y1="1001.3" x2="92.30" y2="1010.8" stroke="#000" stroke-width="2"/>
<text transform="translate(92.30,1034.30) scale(1,1.08)" text-anchor="middle" font-size="22">0</text>
<line x1="147.82" y1="1001.3" x2="147.82" y2="1006.0999999999999" stroke="#000" stroke-width="2"/>
<line x1="203.34" y1="1001.3" x2="203.34" y2="1010.8" stroke="#000" stroke-width="2"/>
<text transform="translate(203.34,1034.30) scale(1,1.08)" text-anchor="middle" font-size="22">20</text>
<line x1="258.86" y1="1001.3" x2="258.86" y2="1006.0999999999999" stroke="#000" stroke-width="2"/>
<line x1="314.38" y1="1001.3" x2="314.38" y2="1010.8" stroke="#000" stroke-width="2"/>
<text transform="translate(314.38,1034.30) scale(1,1.08)" text-anchor="middle" font-size="22">40</text>
<line x1="369.90" y1="1001.3" x2="369.90" y2="1006.0999999999999" stroke="#000" stroke-width="2"/>
<line x1="425.42" y1="1001.3" x2="425.42" y2="1010.8" stroke="#000" stroke-width="2"/>
<text transform="translate(425.42,1034.30) scale(1,1.08)" text-anchor="middle" font-size="22">60</text>
<line x1="480.94" y1="1001.3" x2="480.94" y2="1006.0999999999999" stroke="#000" stroke-width="2"/>
<line x1="536.46" y1="1001.3" x2="536.46" y2="1010.8" stroke="#000" stroke-width="2"/>
<text transform="translate(536.46,1034.30) scale(1,1.08)" text-anchor="middle" font-size="22">80</text>
<line x1="591.98" y1="1001.3" x2="591.98" y2="1006.0999999999999" stroke="#000" stroke-width="2"/>
<line x1="647.50" y1="1001.3" x2="647.50" y2="1010.8" stroke="#000" stroke-width="2"/>
<text transform="translate(647.50,1034.30) scale(1,1.08)" text-anchor="middle" font-size="22">100</text>
<line x1="82.8" y1="958.72" x2="92.3" y2="958.72" stroke="#000" stroke-width="2"/>
<line x1="82.8" y1="873.56" x2="92.3" y2="873.56" stroke="#000" stroke-width="2"/>
<line x1="82.8" y1="788.40" x2="92.3" y2="788.40" stroke="#000" stroke-width="2"/>
<line x1="82.8" y1="703.24" x2="92.3" y2="703.24" stroke="#000" stroke-width="2"/>
<line x1="82.8" y1="618.08" x2="92.3" y2="618.08" stroke="#000" stroke-width="2"/>
<line x1="87.5" y1="1001.30" x2="92.3" y2="1001.30" stroke="#000" stroke-width="2"/>
<line x1="87.5" y1="916.14" x2="92.3" y2="916.14" stroke="#000" stroke-width="2"/>
<line x1="87.5" y1="830.98" x2="92.3" y2="830.98" stroke="#000" stroke-width="2"/>
<line x1="87.5" y1="745.82" x2="92.3" y2="745.82" stroke="#000" stroke-width="2"/>
<line x1="87.5" y1="660.66" x2="92.3" y2="660.66" stroke="#000" stroke-width="2"/>
<line x1="87.5" y1="575.50" x2="92.3" y2="575.50" stroke="#000" stroke-width="2"/>
<text transform="translate(77.30,965.72) scale(1,1.08)" text-anchor="end" font-size="22">3.4</text>
<text transform="translate(77.30,880.56) scale(1,1.08)" text-anchor="end" font-size="22">3.6</text>
<text transform="translate(77.30,795.40) scale(1,1.08)" text-anchor="end" font-size="22">3.8</text>
<text transform="translate(77.30,710.24) scale(1,1.08)" text-anchor="end" font-size="22">4.0</text>
<text transform="translate(77.30,625.08) scale(1,1.08)" text-anchor="end" font-size="22">4.2</text>
<circle cx="378.70" cy="923.00" r="9.6" fill="none" stroke="#8a1822" stroke-width="3.6"/>
<path d="M379.10,939.30 L391.10,951.30 L379.10,963.30 L367.10,951.30 Z" fill="none" stroke="#bd2630" stroke-width="3.6" stroke-linejoin="round"/>
<path d="M379.10,966.30 L390.44,987.30 L367.76,987.30 Z" fill="none" stroke="#e2555b" stroke-width="3.5" stroke-linejoin="miter" stroke-miterlimit="10"/>
<text transform="translate(410.5,932.30) scale(1,1.03)" font-size="22.5">3C, exp</text>
<text transform="translate(557.5,932.30) scale(1,1.03)" font-size="22.5">3C, sim</text>
<text transform="translate(410.5,959.90) scale(1,1.03)" font-size="22.5">4C, exp</text>
<text transform="translate(557.5,959.90) scale(1,1.03)" font-size="22.5">4C, sim</text>
<text transform="translate(410.5,987.50) scale(1,1.03)" font-size="22.5">5C, exp</text>
<text transform="translate(557.5,987.50) scale(1,1.03)" font-size="22.5">5C, sim</text>
<line x1="501.3" y1="923.00" x2="548.6" y2="923.00" stroke="#62101a" stroke-width="3.3" stroke-dasharray="4.4 9.0" stroke-linecap="round"/>
<line x1="501.3" y1="951.30" x2="548.6" y2="951.30" stroke="#7c1624" stroke-width="3.0" stroke-dasharray="0.01 5.85" stroke-linecap="round"/>
<line x1="501.3" y1="978.90" x2="548.6" y2="978.90" stroke="#d84c55" stroke-width="3.0" stroke-dasharray="12 18" stroke-linecap="round"/>
<text x="110.8" y="614.7" font-size="24.4" font-weight="bold" font-style="italic">enhanced ion transport</text>
<text x="2.9" y="564.7" font-size="33.5" font-weight="bold">c</text>
<text transform="translate(21,778.3) rotate(-90) scale(1,1.05)" text-anchor="middle" font-size="26.7">Cell voltage, [V]</text>
<text transform="translate(370,1073.50) scale(1,1.08)" text-anchor="middle" font-size="26.7">State of charge, [%]</text>
<g clip-path="url(#cd)">
<line x1="835.35" y1="859.67" x2="1382.78" y2="859.67" stroke="#000" stroke-width="2.2" stroke-dasharray="12.5 5 3.5 5"/>
<path d="M829.80,576.20 C830.23,576.39 830.66,576.31 831.08,576.77 C832.16,577.94 832.90,582.57 834.24,585.55 C835.74,588.88 837.73,592.60 839.79,595.76 C841.76,598.77 844.04,601.29 846.29,604.12 C848.66,607.10 851.10,609.93 853.67,613.19 C856.60,616.90 859.67,620.61 862.89,625.24 C866.95,631.07 871.43,639.68 875.77,645.65 C879.47,650.74 883.01,654.25 886.99,659.11 C891.60,664.76 896.80,671.51 901.75,677.54 C906.61,683.46 911.09,690.42 916.41,694.97 C921.08,698.96 926.11,701.73 931.40,704.04 C936.66,706.35 942.19,707.35 948.06,708.86 C954.52,710.53 961.18,711.57 968.60,713.54 C977.57,715.92 987.73,719.25 998.03,722.47 C1009.46,726.04 1022.19,730.96 1034.11,734.09 C1045.50,737.08 1055.87,738.75 1067.98,741.04 C1081.89,743.67 1097.90,746.40 1112.95,748.83 C1128.07,751.27 1143.36,752.79 1158.48,755.63 C1173.71,758.50 1188.90,762.36 1204.00,765.98 C1219.06,769.59 1233.17,773.55 1248.98,777.32 C1266.48,781.49 1285.99,785.63 1304.50,789.79" fill="none" stroke="#440a0e" stroke-width="3.3" stroke-linecap="butt" stroke-linejoin="round"/>
<path d="M1273.96,815.87 C1258.04,810.20 1242.88,804.33 1226.21,798.86 C1208.21,792.96 1188.51,787.18 1169.58,781.86 C1150.75,776.55 1131.87,771.36 1112.95,766.97 C1094.21,762.63 1070.92,758.55 1056.60,755.63 C1047.78,753.84 1043.30,753.10 1035.22,751.24 C1024.51,748.77 1009.67,744.99 998.03,741.74 C987.61,738.84 977.69,736.16 968.60,732.82 C960.43,729.81 953.98,726.04 945.84,722.89 C936.73,719.38 925.36,717.49 916.41,712.97 C907.85,708.65 899.79,702.99 893.09,696.67 C886.64,690.59 880.76,681.91 876.71,675.98 C873.91,671.88 872.68,668.75 870.33,665.07 C867.81,661.10 864.82,656.92 862.00,653.02 C859.26,649.23 856.15,645.83 853.67,641.96 C851.21,638.12 849.33,633.94 847.18,629.92 C845.03,625.90 842.64,622.02 840.79,617.87 C838.94,613.71 837.60,609.57 836.07,604.97 C834.35,599.78 832.28,591.48 831.08,588.25 C830.57,586.88 830.23,586.36 829.80,585.41" fill="none" stroke="#66121c" stroke-width="3.3" stroke-dasharray="4.4 9.0" stroke-linecap="round" stroke-linejoin="round"/>
<path d="M1240.09,839.68 C1223.62,831.93 1205.37,822.62 1190.68,816.44 C1179.23,811.61 1169.92,808.28 1159.59,804.82 C1149.56,801.45 1139.47,798.76 1129.61,795.89 C1120.04,793.10 1111.28,790.55 1101.29,787.81 C1090.13,784.75 1077.56,781.54 1065.76,778.45 C1054.06,775.40 1042.37,772.58 1030.78,769.38 C1019.24,766.20 1008.02,762.69 996.36,759.32 C984.34,755.84 968.94,752.16 959.72,748.83 C953.90,746.73 951.28,745.32 945.84,742.74 C937.80,738.93 925.51,732.47 916.41,727.71 C908.47,723.56 900.76,720.45 894.20,715.81 C888.10,711.48 882.96,706.54 878.10,701.07 C873.13,695.47 868.62,688.57 864.78,682.50 C861.34,677.07 857.98,670.49 855.89,666.48 C854.67,664.13 854.17,663.00 853.12,660.81 C851.69,657.83 849.80,653.73 848.12,650.18 C846.45,646.64 844.59,643.20 843.07,639.55 C841.52,635.84 840.21,631.96 838.91,628.07 C837.58,624.12 836.57,620.01 835.19,616.03 C833.79,612.02 832.11,608.09 830.58,604.12" fill="none" stroke="#7e1626" stroke-width="3.0" stroke-dasharray="0.01 5.85" stroke-linecap="round" stroke-linejoin="round"/>
<path d="M1217.33,869.16 C1201.41,859.71 1186.42,849.66 1169.58,840.82 C1151.74,831.44 1131.94,822.73 1112.95,814.74 C1094.27,806.88 1073.10,798.45 1056.60,793.19 C1044.09,789.21 1033.68,787.48 1023.01,784.55 C1013.22,781.85 1004.43,779.13 994.97,776.33 C985.28,773.46 975.20,770.96 965.55,767.54 C955.86,764.11 946.18,760.02 936.95,755.78 C927.97,751.64 919.52,747.28 910.86,742.45 C901.93,737.48 892.01,732.64 884.21,726.30 C876.75,720.23 870.17,713.38 864.78,705.46 C859.16,697.21 855.21,686.11 851.45,677.54 C848.33,670.42 845.73,663.75 843.51,657.70 C841.68,652.68 840.28,648.54 838.91,643.81 C837.50,638.96 836.51,633.77 835.19,628.92 C833.90,624.24 832.45,619.76 831.08,615.18" fill="none" stroke="#e0545c" stroke-width="3.0" stroke-dasharray="12 18" stroke-linecap="round" stroke-linejoin="round"/>
<path d="M1185.13,898.08 C1168.66,886.93 1151.99,874.99 1135.72,864.63 C1120.37,854.86 1105.51,845.64 1090.19,837.41 C1075.33,829.44 1058.10,821.51 1045.22,815.87 C1035.76,811.73 1029.61,809.66 1020.23,805.95 C1008.18,801.18 992.71,795.09 978.87,789.65 C964.95,784.18 948.19,778.19 936.95,773.21 C929.16,769.75 924.30,767.10 917.52,763.57 C909.94,759.62 900.52,754.34 893.65,750.53 C888.39,747.62 884.38,746.41 879.77,742.74 C873.82,738.00 866.83,730.86 862.00,723.18 C856.71,714.75 853.27,702.08 850.06,693.70 C847.71,687.53 845.97,682.91 844.24,677.54 C842.55,672.33 841.04,666.83 839.79,661.95 C838.71,657.69 837.94,653.72 837.07,649.90 C836.28,646.43 835.70,643.57 834.80,639.98 C833.71,635.67 832.21,630.53 830.91,625.81" fill="none" stroke="#d9a030" stroke-width="3.0" stroke-dasharray="10.4 11.3 0.7 11.3 0.7 11.3" stroke-linecap="round" stroke-linejoin="round"/>
</g>
<line x1="849.3" y1="859.67" x2="849.3" y2="915" stroke="#000" stroke-width="2"/>
<path d="M842.8,912 L855.8,912 L849.3,935.7 Z" fill="#000"/>
<text x="871" y="903.5" font-size="22.6" font-weight="bold">Li plating</text>
<rect x="829.8" y="576.2" width="555.2" height="425.19999999999993" fill="none" stroke="#000" stroke-width="2"/>
<line x1="829.80" y1="1001.4" x2="829.80" y2="1010.9" stroke="#000" stroke-width="2"/>
<text transform="translate(829.80,1034.40) scale(1,1.08)" text-anchor="middle" font-size="22">0</text>
<line x1="885.32" y1="1001.4" x2="885.32" y2="1006.1999999999999" stroke="#000" stroke-width="2"/>
<line x1="940.84" y1="1001.4" x2="940.84" y2="1010.9" stroke="#000" stroke-width="2"/>
<text transform="translate(940.84,1034.40) scale(1,1.08)" text-anchor="middle" font-size="22">20</text>
<line x1="996.36" y1="1001.4" x2="996.36" y2="1006.1999999999999" stroke="#000" stroke-width="2"/>
<line x1="1051.88" y1="1001.4" x2="1051.88" y2="1010.9" stroke="#000" stroke-width="2"/>
<text transform="translate(1051.88,1034.40) scale(1,1.08)" text-anchor="middle" font-size="22">40</text>
<line x1="1107.40" y1="1001.4" x2="1107.40" y2="1006.1999999999999" stroke="#000" stroke-width="2"/>
<line x1="1162.92" y1="1001.4" x2="1162.92" y2="1010.9" stroke="#000" stroke-width="2"/>
<text transform="translate(1162.92,1034.40) scale(1,1.08)" text-anchor="middle" font-size="22">60</text>
<line x1="1218.44" y1="1001.4" x2="1218.44" y2="1006.1999999999999" stroke="#000" stroke-width="2"/>
<line x1="1273.96" y1="1001.4" x2="1273.96" y2="1010.9" stroke="#000" stroke-width="2"/>
<text transform="translate(1273.96,1034.40) scale(1,1.08)" text-anchor="middle" font-size="22">80</text>
<line x1="1329.48" y1="1001.4" x2="1329.48" y2="1006.1999999999999" stroke="#000" stroke-width="2"/>
<line x1="1385.00" y1="1001.4" x2="1385.00" y2="1010.9" stroke="#000" stroke-width="2"/>
<text transform="translate(1385.00,1034.40) scale(1,1.08)" text-anchor="middle" font-size="22">100</text>
<line x1="820.3" y1="1001.40" x2="829.8" y2="1001.40" stroke="#000" stroke-width="2"/>
<line x1="820.3" y1="930.53" x2="829.8" y2="930.53" stroke="#000" stroke-width="2"/>
<line x1="820.3" y1="859.67" x2="829.8" y2="859.67" stroke="#000" stroke-width="2"/>
<line x1="820.3" y1="788.80" x2="829.8" y2="788.80" stroke="#000" stroke-width="2"/>
<line x1="820.3" y1="717.93" x2="829.8" y2="717.93" stroke="#000" stroke-width="2"/>
<line x1="820.3" y1="647.07" x2="829.8" y2="647.07" stroke="#000" stroke-width="2"/>
<line x1="820.3" y1="576.20" x2="829.8" y2="576.20" stroke="#000" stroke-width="2"/>
<line x1="825.0" y1="965.97" x2="829.8" y2="965.97" stroke="#000" stroke-width="2"/>
<line x1="825.0" y1="895.10" x2="829.8" y2="895.10" stroke="#000" stroke-width="2"/>
<line x1="825.0" y1="824.23" x2="829.8" y2="824.23" stroke="#000" stroke-width="2"/>
<line x1="825.0" y1="753.37" x2="829.8" y2="753.37" stroke="#000" stroke-width="2"/>
<line x1="825.0" y1="682.50" x2="829.8" y2="682.50" stroke="#000" stroke-width="2"/>
<line x1="825.0" y1="611.63" x2="829.8" y2="611.63" stroke="#000" stroke-width="2"/>
<text transform="translate(814.80,1008.40) scale(1,1.08)" text-anchor="end" font-size="22">-100</text>
<text transform="translate(814.80,937.53) scale(1,1.08)" text-anchor="end" font-size="22">-50</text>
<text transform="translate(814.80,866.67) scale(1,1.08)" text-anchor="end" font-size="22">0</text>
<text transform="translate(814.80,795.80) scale(1,1.08)" text-anchor="end" font-size="22">50</text>
<text transform="translate(814.80,724.93) scale(1,1.08)" text-anchor="end" font-size="22">100</text>
<text transform="translate(814.80,654.07) scale(1,1.08)" text-anchor="end" font-size="22">150</text>
<text transform="translate(814.80,583.20) scale(1,1.08)" text-anchor="end" font-size="22">200</text>
<text x="879.3" y="613.5" font-size="24.4" font-weight="bold" font-style="italic">enhanced ion transport</text>
<text x="726.6" y="572.2" font-size="33.5" font-weight="bold">d</text>
<text transform="translate(743.5,788.8) rotate(-90) scale(1,1.05)" text-anchor="middle" font-size="26.7">Lithium deposition potential, [mV]</text>
<text transform="translate(1107.4,1075.70) scale(1,1.08)" text-anchor="middle" font-size="26.7">State of charge, [%]</text>
<line x1="1286.4" y1="598.00" x2="1339.3" y2="598.00" stroke="#440a0e" stroke-width="3.3" stroke-linecap="butt"/>
<text transform="translate(1344.3,606.10) scale(1,1.08)" font-size="22.7">2C</text>
<line x1="1287.9" y1="625.85" x2="1339.3" y2="625.85" stroke="#66121c" stroke-width="3.3" stroke-dasharray="4.4 9.0" stroke-linecap="round"/>
<text transform="translate(1344.3,633.95) scale(1,1.08)" font-size="22.7">3C</text>
<line x1="1287.9" y1="653.70" x2="1339.3" y2="653.70" stroke="#7e1626" stroke-width="3.0" stroke-dasharray="0.01 5.85" stroke-linecap="round"/>
<text transform="translate(1344.3,661.80) scale(1,1.08)" font-size="22.7">4C</text>
<line x1="1287.9" y1="681.55" x2="1339.3" y2="681.55" stroke="#e0545c" stroke-width="3.0" stroke-dasharray="12 18" stroke-linecap="round"/>
<text transform="translate(1344.3,689.65) scale(1,1.08)" font-size="22.7">5C</text>
<line x1="1287.9" y1="709.40" x2="1339.3" y2="709.40" stroke="#d9a030" stroke-width="3.0" stroke-dasharray="10.4 11.3 0.7 11.3 0.7 11.3" stroke-linecap="round"/>
<text transform="translate(1344.3,717.50) scale(1,1.08)" font-size="22.7">6C</text>
</svg></body></html>
